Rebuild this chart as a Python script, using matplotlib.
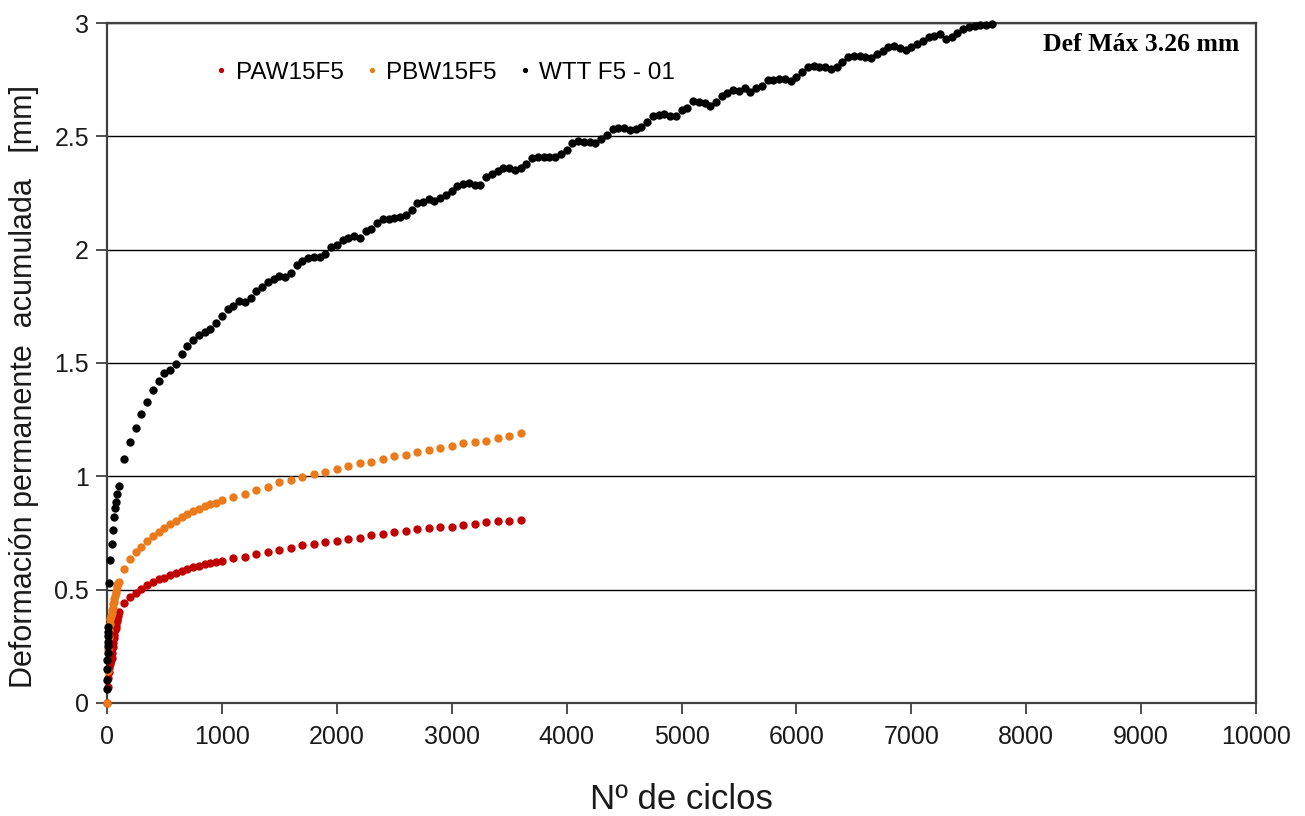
import numpy as np
import matplotlib.pyplot as plt

# ---- data: cycles vs. accumulated permanent deformation [mm] ----
# PAW15F5 (red)
paw_cycles = ([0, 5, 10, 15, 20, 25, 30, 35, 40, 45, 50, 55, 60, 65, 70, 75, 80, 85, 90, 95, 100]
              + list(range(150, 1001, 50)) + list(range(1100, 3601, 100)))
paw_def = [0.0, 0.07, 0.11, 0.135, 0.155, 0.17, 0.18, 0.19, 0.20, 0.22, 0.245, 0.265, 0.285,
           0.30, 0.32, 0.33, 0.345, 0.36, 0.37, 0.385, 0.40,
           0.443, 0.466, 0.487, 0.503, 0.522, 0.535, 0.547, 0.553, 0.565, 0.572, 0.584, 0.591,
           0.599, 0.606, 0.612, 0.616, 0.622, 0.628,
           0.638, 0.645, 0.657, 0.665, 0.675, 0.685, 0.697, 0.703, 0.709, 0.716, 0.722, 0.728,
           0.741, 0.747, 0.753, 0.759, 0.766, 0.772, 0.778, 0.778, 0.784, 0.790, 0.797, 0.803,
           0.803, 0.809]

# PBW15F5 (orange)
pbw_cycles = paw_cycles
pbw_def = [0.0, 0.14, 0.24, 0.29, 0.32, 0.35, 0.37, 0.385, 0.395, 0.41, 0.42, 0.435, 0.445,
           0.46, 0.47, 0.485, 0.495, 0.51, 0.52, 0.53, 0.535,
           0.590, 0.634, 0.666, 0.690, 0.715, 0.737, 0.756, 0.773, 0.788, 0.804, 0.822, 0.834,
           0.847, 0.857, 0.869, 0.877, 0.884, 0.896,
           0.910, 0.922, 0.940, 0.953, 0.973, 0.984, 0.996, 1.009, 1.021, 1.034, 1.046, 1.059,
           1.065, 1.076, 1.090, 1.095, 1.109, 1.115, 1.126, 1.134, 1.146, 1.151, 1.157, 1.170,
           1.177, 1.190]

# WTT F5 - 01 (black), readings every 50 cycles after the first 100
wtt_cycles = ([1, 2, 3, 4, 5, 6, 7, 8, 9, 10, 20, 30, 40, 50, 60, 70, 80, 90, 100]
              + list(range(150, 7701, 50)))
wtt_def = [0.06, 0.10, 0.15, 0.19, 0.22, 0.25, 0.27, 0.295, 0.315, 0.335,
           0.53, 0.63, 0.70, 0.765, 0.82, 0.86, 0.885, 0.92, 0.957,
           # 150 - 3400
           1.076, 1.151, 1.213, 1.276, 1.327, 1.382, 1.420, 1.457, 1.469, 1.494, 1.538, 1.575,
           1.601, 1.622, 1.638, 1.650, 1.675, 1.707, 1.738, 1.753, 1.772, 1.768, 1.788, 1.819,
           1.837, 1.857, 1.869, 1.882, 1.879, 1.897, 1.931, 1.950, 1.963, 1.968, 1.966, 1.982,
           2.010, 2.022, 2.043, 2.053, 2.062, 2.053, 2.081, 2.091, 2.118, 2.137, 2.137, 2.139,
           2.143, 2.154, 2.175, 2.204, 2.209, 2.224, 2.215, 2.228, 2.241, 2.259, 2.281, 2.288,
           2.295, 2.287, 2.284, 2.319, 2.334, 2.347,
           # 3450 - 5500
           2.359, 2.359, 2.351, 2.359, 2.376, 2.406, 2.410, 2.410, 2.410, 2.410, 2.420, 2.440,
           2.469, 2.481, 2.476, 2.475, 2.472, 2.488, 2.504, 2.531, 2.535, 2.535, 2.528, 2.534,
           2.542, 2.564, 2.591, 2.594, 2.599, 2.591, 2.590, 2.617, 2.624, 2.656, 2.650, 2.645,
           2.635, 2.650, 2.679, 2.691, 2.703, 2.701,
           # 5550 - 7700
           2.713, 2.697, 2.712, 2.723, 2.748, 2.748, 2.755, 2.755, 2.746, 2.763, 2.782, 2.807,
           2.811, 2.807, 2.804, 2.797, 2.804, 2.829, 2.848, 2.855, 2.855, 2.848, 2.847, 2.862,
           2.876, 2.894, 2.899, 2.890, 2.883, 2.894, 2.909, 2.919, 2.938, 2.942, 2.950, 2.928,
           2.938, 2.957, 2.974, 2.982, 2.985, 2.990, 2.993, 2.996]

series = [
    ("PAW15F5", paw_cycles, paw_def, "#c00000"),
    ("PBW15F5", pbw_cycles, pbw_def, "#ea7a1a"),
    ("WTT F5 - 01", wtt_cycles, wtt_def, "black"),
]

plt.rcParams["font.family"] = ["Liberation Sans", "DejaVu Sans"]

fig = plt.figure(figsize=(13.05, 8.16), dpi=100)
ax = fig.add_axes([0.082, 0.1385, 0.8805, 0.8333])

for name, x, y, c in series:
    ax.plot(x, y, linestyle="none", marker="o", ms=5.0, color=c, mec=c,
            label=name, clip_on=False, zorder=3)

ax.set_xlim(0, 10000)
ax.set_ylim(0, 3)
ax.set_xticks(np.arange(0, 10001, 1000))
ax.set_yticks([0, 0.5, 1, 1.5, 2, 2.5, 3])
ax.set_yticklabels(["0", "0.5", "1", "1.5", "2", "2.5", "3"])
ax.yaxis.grid(True, color="black", lw=1.0)
ax.set_axisbelow(True)

for s in ax.spines.values():
    s.set_color("#404040")
    s.set_linewidth(1.6)

ax.tick_params(axis="both", direction="out", length=8, width=1.3, color="#404040",
               labelcolor="#1a1a1a", labelsize=18)
ax.tick_params(axis="x", pad=8)
ax.tick_params(axis="y", pad=5)

ax.set_xlabel("Nº de ciclos", fontsize=25, color="#1a1a1a", labelpad=24)
ax.set_ylabel("Deformación permanente  acumulada   [mm]", fontsize=22, color="#1a1a1a")
ax.yaxis.set_label_coords(-0.059, 0.465)

leg = ax.legend(loc="upper left", bbox_to_anchor=(0.075, 0.975), ncol=3, frameon=False,
                fontsize=17.5, markerscale=0.55, handlelength=0.5, handletextpad=0.35,
                columnspacing=0.9)

ax.text(0.985, 0.985, "Def Máx 3.26 mm", transform=ax.transAxes, ha="right", va="top",
        fontsize=18.5, fontweight="bold", family=["Liberation Serif", "DejaVu Serif"])

fig.savefig("out.png", dpi=100)
